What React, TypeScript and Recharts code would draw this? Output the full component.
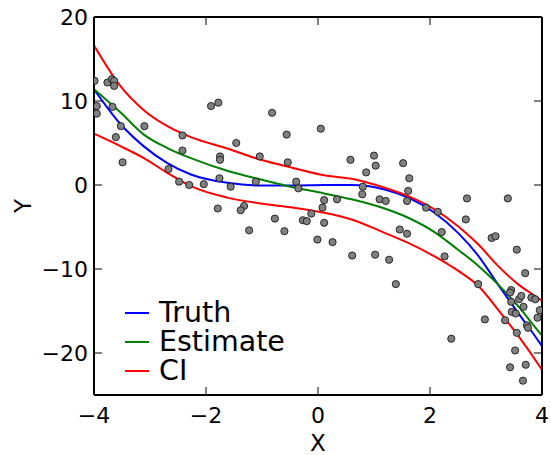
import React from "react";
import {
  ComposedChart,
  Line,
  Scatter,
  XAxis,
  YAxis,
  Legend,
  Label,
} from "recharts";

const FONT = "DejaVu Sans";

// curve samples
const curveX = [-4, -3.52, -3.11, -2.69, -2.27, -1.62, -1.02, -0.43, 0.11, 0.6, 1.19, 1.61, 2.08, 2.5, 2.86, 3.21, 3.57, 3.96, 4];
const truthY = [11.4, 7.2, 4.6, 2.6, 1.25, 0.26, -0.06, -0.06, 0, 0, -0.53, -1.5, -3.3, -5.7, -8.4, -11.8, -15.2, -18.8, -19.2];
const estimateY = [11.4, 8.6, 6.0, 4.4, 3.2, 1.7, 0.65, -0.3, -1.0, -1.7, -2.8, -3.9, -5.6, -7.7, -9.6, -11.8, -14.4, -17.6, -17.9];
const ciUpperY = [16.6, 11.7, 8.9, 7.0, 5.7, 4.35, 3.0, 2.0, 1.15, 0.74, -0.33, -1.33, -2.9, -4.9, -7.06, -9.6, -11.8, -13.6, -13.8];
const ciLowerY = [6.1, 4.6, 3.2, 1.45, -0.14, -1.5, -2.2, -2.7, -3.3, -4.1, -5.7, -6.9, -8.5, -10.2, -12.0, -14.8, -17.9, -21.6, -22.0];

// observed points
const obsX = [
  -3.99, -3.76, -3.68, -3.64, -3.64, -3.95, -3.95, -3.67, -3.52, -3.1, -3.61, -3.49, -1.91, -1.78, -0.82, 0.05,
  -2.42, -2.42, -0.56, -1.46, -1.75, -1.75, -1.04, -0.54, -2.67, -2.48, -2.3, -2.04, -1.76, -1.56, -1.11, -0.39,
  -0.35, -1.79, -1.32, -1.38, -0.77, -0.27, -0.2, -0.12, -1.23, -0.6, -0.01, 0.58, 1.0, 1.03, 0.86, 1.52, 1.63,
  1.61, 1.59, 0.8, 0.79, 0.11, 0.08, 0.34, 1.1, 1.21, 2.66, 3.39, 1.93, 2.14, 0.11, 0.26, 0.61, 1.02, 1.27, 1.39,
  1.46, 1.59, 2.21, 2.26, 2.64, 2.86, 2.98, 2.38, 3.1, 3.17, 3.55, 3.7, 3.45, 3.45, 3.59, 3.63, 3.81, 3.88, 3.46,
  3.53, 3.67, 3.96, 3.92, 3.34, 3.73, 3.75, 3.55, 3.52, 3.43, 3.71, 3.66, 3.43,
];
const obsY = [
  12.4, 12.2, 12.6, 12.4, 11.8, 9.4, 8.5, 9.3, 7.0, 7.0, 5.7, 2.7, 9.4, 9.8, 8.6, 6.7,
  5.9, 4.1, 6.0, 5.0, 3.4, 3.0, 3.4, 2.7, 1.9, 0.4, 0.0, 0.1, 0.8, -0.2, 0.4, 0.4,
  -0.4, -2.8, -2.5, -3.0, -4.0, -4.2, -4.3, -3.4, -5.4, -5.5, -6.5, 3.0, 3.5, 2.3, 1.5, 2.6, 0.8,
  -0.7, -1.9, -0.2, -1.1, -1.8, -2.7, -1.7, -1.7, -1.9, -1.6, -1.6, -2.7, -3.2, -4.5, -6.8, -8.4, -8.3, -8.9, -11.8,
  -5.3, -5.8, -5.6, -8.5, -4.1, -11.8, -16.0, -18.3, -6.3, -6.1, -7.7, -10.5, -12.5, -13.9, -13.6, -13.2, -13.4, -13.6, -15.1,
  -15.3, -14.5, -14.9, -15.8, -16.1, -16.7, -17.0, -17.6, -19.7, -21.7, -21.4, -23.3, -12.8,
];

const xTicks = [-4, -2, 0, 2, 4];
const yTicks = [-20, -10, 0, 10, 20];

const curves = curveX.map((x, i) => ({
  x,
  truth: truthY[i],
  estimate: estimateY[i],
  upper: ciUpperY[i],
  lower: ciLowerY[i],
}));
const points = obsX.map((x, i) => ({ x, y: obsY[i] }));

const legendItems = [
  { name: "Truth", color: "#0000ff" },
  { name: "Estimate", color: "#008000" },
  { name: "CI", color: "#ff0000" },
];

const fmt = (v: number) => (v < 0 ? "\u2212" + Math.abs(v) : String(v));

const BottomTick = (props: any) => {
  const { x, y, payload } = props;
  return (
    <g>
      <line x1={x} y1={y} x2={x} y2={y - 8} stroke="#000" strokeWidth={1} />
      <text x={x} y={y + 28} textAnchor="middle" fontSize={22} fontFamily={FONT} fill="#000">
        {fmt(payload.value)}
      </text>
    </g>
  );
};

const TopTick = (props: any) => {
  const { x, y } = props;
  return <line x1={x} y1={y} x2={x} y2={y + 8} stroke="#000" strokeWidth={1} />;
};

const LeftTick = (props: any) => {
  const { x, y, payload } = props;
  return (
    <g>
      <line x1={x} y1={y} x2={x + 8} y2={y} stroke="#000" strokeWidth={1} />
      <text x={x - 6} y={y + 8} textAnchor="end" fontSize={22} fontFamily={FONT} fill="#000">
        {fmt(payload.value)}
      </text>
    </g>
  );
};

const RightTick = (props: any) => {
  const { x, y } = props;
  return <line x1={x} y1={y} x2={x - 8} y2={y} stroke="#000" strokeWidth={1} />;
};

const PointShape = (props: any) => (
  <circle cx={props.cx} cy={props.cy} r={3.6} fill="#808080" stroke="#1a1a1a" strokeWidth={0.9} />
);

const LegendBox = () => (
  <div style={{ fontFamily: FONT, fontSize: 28.5, lineHeight: "29px" }}>
    {legendItems.map((it) => (
      <div key={it.name} style={{ display: "flex", alignItems: "center", height: 29 }}>
        <div style={{ width: 24, height: 2, background: it.color, marginRight: 10 }} />
        <span style={{ display: "inline-block", height: 29, lineHeight: "29px" }}>{it.name}</span>
      </div>
    ))}
  </div>
);

export default function App() {
  return (
    <div style={{ position: "absolute", left: 0, top: 0, background: "#fff" }}>
      <ComposedChart width={551} height={455} margin={{ top: 7, right: 0, left: 34, bottom: 0 }}>
        <XAxis
          xAxisId="b"
          type="number"
          dataKey="x"
          domain={[-4, 4]}
          ticks={xTicks}
          allowDataOverflow
          height={60}
          tickSize={0}
          tickMargin={0}
          tickLine={false}
          tick={<BottomTick />}
          axisLine={{ stroke: "#000", strokeWidth: 2 }}
        >
          <Label
            content={() => (
              <text x={318} y={451} textAnchor="middle" fontSize={23} fontFamily={FONT} fill="#000">
                X
              </text>
            )}
          />
        </XAxis>
        <XAxis
          xAxisId="t"
          orientation="top"
          type="number"
          dataKey="x"
          domain={[-4, 4]}
          ticks={xTicks}
          allowDataOverflow
          height={10}
          tickSize={0}
          tickMargin={0}
          tickLine={false}
          tick={<TopTick />}
          axisLine={{ stroke: "#000", strokeWidth: 2 }}
        />
        <YAxis
          yAxisId="l"
          type="number"
          domain={[-25, 20]}
          ticks={yTicks}
          allowDataOverflow
          width={60}
          tickSize={0}
          tickMargin={0}
          tickLine={false}
          tick={<LeftTick />}
          axisLine={{ stroke: "#000", strokeWidth: 2 }}
        >
          <Label
            content={() => (
              <text
                x={0}
                y={0}
                transform="translate(31,206) rotate(-90)"
                textAnchor="middle"
                fontSize={23}
                fontFamily={FONT}
                fill="#000"
              >
                Y
              </text>
            )}
          />
        </YAxis>
        <YAxis
          yAxisId="r"
          orientation="right"
          type="number"
          domain={[-25, 20]}
          ticks={yTicks}
          allowDataOverflow
          width={9}
          tickSize={0}
          tickMargin={0}
          tickLine={false}
          tick={<RightTick />}
          axisLine={{ stroke: "#000", strokeWidth: 2 }}
        />
        <Scatter
          xAxisId="b"
          yAxisId="l"
          data={points}
          dataKey="y"
          shape={<PointShape />}
          isAnimationActive={false}
        />
        <Line xAxisId="b" yAxisId="l" data={curves} dataKey="truth" type="monotone" stroke="#0000ff" strokeWidth={2} dot={false} activeDot={false} isAnimationActive={false} />
        <Line xAxisId="b" yAxisId="l" data={curves} dataKey="estimate" type="monotone" stroke="#008000" strokeWidth={2} dot={false} activeDot={false} isAnimationActive={false} />
        <Line xAxisId="b" yAxisId="l" data={curves} dataKey="upper" type="monotone" stroke="#ff0000" strokeWidth={2} dot={false} activeDot={false} isAnimationActive={false} />
        <Line xAxisId="b" yAxisId="l" data={curves} dataKey="lower" type="monotone" stroke="#ff0000" strokeWidth={2} dot={false} activeDot={false} isAnimationActive={false} />
        <Legend
          layout="horizontal"
          verticalAlign="middle"
          align="center"
          content={() => <LegendBox />}
          wrapperStyle={{ left: 125, top: 298, width: "auto" }}
        />
      </ComposedChart>
    </div>
  );
}
